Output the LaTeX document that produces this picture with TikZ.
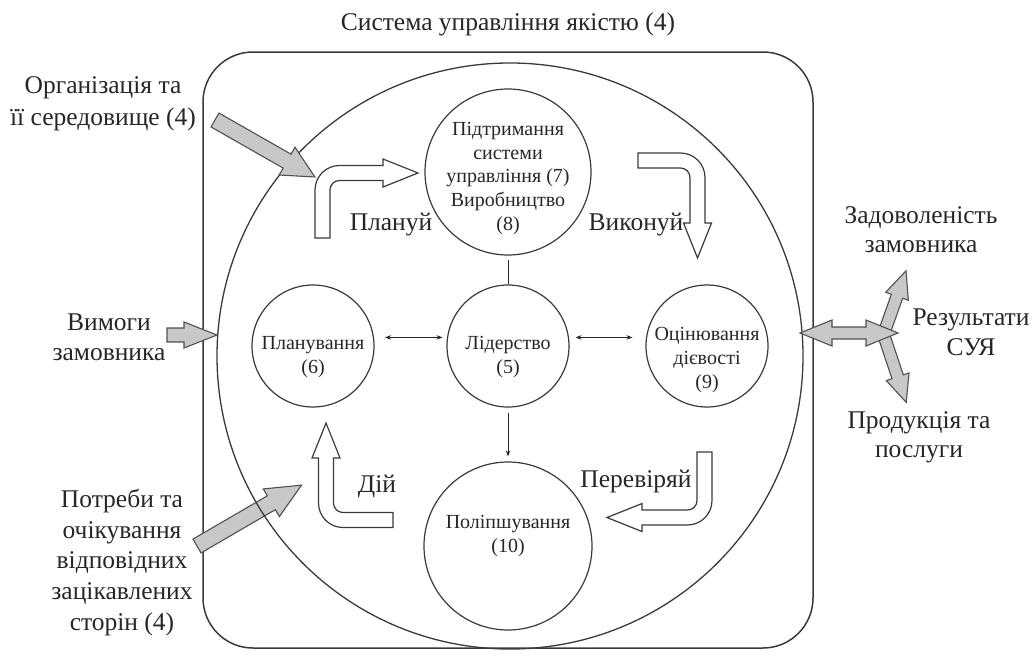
\documentclass[tikz,border=0pt]{standalone}
\usepackage{fontspec}
\setmainfont{Liberation Serif}
\usetikzlibrary{calc,arrows.meta}

\definecolor{ink}{HTML}{262626}
\definecolor{edge}{HTML}{3A3A3A}
\definecolor{greyfill}{HTML}{C8C8C8}
\definecolor{greyedge}{HTML}{505050}

\tikzset{
  frame/.style={draw=edge, line width=1.5pt, rounded corners=50pt},
  bigring/.style={draw=edge, line width=1.3pt},
  circ/.style={draw=edge, line width=1.2pt, circle, inner sep=0pt},
  ctext/.style={text=ink, align=center, inner sep=0pt, font=\fontsize{20}{23.6}\selectfont},
  lbl/.style={text=ink, align=center, inner sep=0pt, font=\fontsize{25.5}{30}\selectfont},
  hollowarrow/.style={draw=edge, line width=1.2pt, fill=white, line join=miter},
  greyarrow/.style={draw=greyedge, line width=1.1pt, fill=greyfill, line join=miter},
  link/.style={draw=ink, line width=1pt},
  tip/.style={-{Stealth[length=6pt,width=4.5pt]}},
  tips/.style={{Stealth[length=6pt,width=4.5pt]}-{Stealth[length=6pt,width=4.5pt]}},
}

% hollow bent arrow: centre-line corner, rotation, stem length, arm length to head
\newcommand\bentarrow[4]{%
  \draw[hollowarrow, shift={(#1)}, rotate=#2]
    (-7.5,-#3) -- (-7.5,-17) arc[start angle=180,end angle=90,radius=24.5]
    -- (#4,7.5) -- (#4,14) -- ({#4+35},0) -- (#4,-14) -- (#4,-7.5)
    -- (17,-7.5) arc[start angle=90,end angle=180,radius=9.5]
    -- (7.5,-#3) -- cycle;}

% grey block arrow: tail, angle, length, shaft half-width, head half-width, head length
\newcommand\blockarrow[6]{%
  \draw[greyarrow, shift={(#1)}, rotate=#2]
    (0,-#4) -- ({#3-#6},-#4) -- ({#3-#6},-#5) -- (#3,0)
    -- ({#3-#6},#5) -- ({#3-#6},#4) -- (0,#4) -- cycle;}

\begin{document}
\begin{tikzpicture}[x=1pt,y=1pt]
\useasboundingbox (0,0) rectangle (1036,-659);

% outer system frame and the PDCA ring
\draw[frame] (203,-52) rectangle (813,-648);
\blockarrow{197,-546}{30.2}{121}{8}{16}{35}
\draw[bigring] (510,-356) circle[radius=293];

% title
\node[lbl, anchor=base] (title) at (508,-30) {Система управління якістю (4)};

% process circles
\node[circ, minimum size=166pt] (supp) at (508,-172) {};
\node[circ, minimum size=122pt] (lead) at (508,-346) {};
\node[circ, minimum size=122pt] (plan) at (313,-346) {};
\node[circ, minimum size=122pt] (eval) at (707,-346) {};
\node[circ, minimum size=168pt] (impr) at (508,-546) {};

% circle captions, placed by the baseline of their last line
\node[ctext, anchor=base] (supptxt) at (508,-230) {Підтримання\\системи\\управління (7)\\Виробництво\\(8)};
\node[ctext, anchor=base] (leadtxt) at (508,-373) {Лідерство\\(5)};
\node[ctext, anchor=base] (plantxt) at (313,-373) {Планування\\(6)};
\node[ctext, anchor=base] (evaltxt) at (707,-388) {Оцінювання\\дієвості\\(9)};
\node[ctext, anchor=base] (imprtxt) at (508,-552) {Поліпшування\\(10)};

% links between the circles
\draw[link, tips, shorten <=11pt, shorten >=4.5pt] (plan.8) -- (lead.172);
\draw[link, tips, shorten <=6.5pt, shorten >=13.5pt] (lead.8) -- (eval.172);
\draw[link, shorten <=4pt] (supp.south) -- (lead.north);
\draw[link, tip, shorten <=5pt, shorten >=5pt] (lead.south) -- (impr.north);

% PDCA cycle arrows
\bentarrow{322.5,-173}{0}{65}{60.5}
\bentarrow{697.5,-160.5}{-90}{59.5}{62.5}
\bentarrow{704.5,-517.5}{180}{65.5}{62.5}
\bentarrow{326,-520}{90}{67}{62}

\node[lbl, anchor=base] (plantag) at (391,-230) {Плануй};
\node[lbl, anchor=base] (dotag) at (636,-230) {Виконуй};
\node[lbl, anchor=base] (acttag) at (377,-492) {Дій};
\node[lbl, anchor=base] (checktag) at (636,-487) {Перевіряй};

% inputs
\blockarrow{215,-120}{-29.7}{115}{8}{16}{32}
\blockarrow{167,-335}{0}{50}{7}{13}{33}

\node[lbl, anchor=base, font=\fontsize{25.5}{32}\selectfont] (org) at (103,-125) {Організація та\\її середовище (4)};
\node[lbl, anchor=base] (req) at (109,-360) {Вимоги\\замовника};
\node[lbl, anchor=base, font=\fontsize{25.5}{30.6}\selectfont] (needs) at (122,-630) {Потреби та\\очікування\\відповідних\\зацікавлених\\сторін (4)};

% outputs
\blockarrow{884,-333}{70.5}{66}{6}{12}{27}
\blockarrow{884,-336}{-71.5}{70}{6}{12}{27}
\draw[greyarrow, shift={(800,-333)}]
  (0,0) -- (32,13) -- (32,6) -- (66,6) -- (66,13) -- (98,0)
  -- (66,-13) -- (66,-6) -- (32,-6) -- (32,-13) -- cycle;

\node[lbl, anchor=base, font=\fontsize{25.5}{29}\selectfont] (sat) at (921,-252) {Задоволеність\\замовника};
\node[lbl, anchor=base] (res) at (971,-355) {Результати\\СУЯ};
\node[lbl, anchor=base, font=\fontsize{25.5}{29}\selectfont] (prod) at (919,-457) {Продукція та\\послуги};
\end{tikzpicture}
\end{document}
